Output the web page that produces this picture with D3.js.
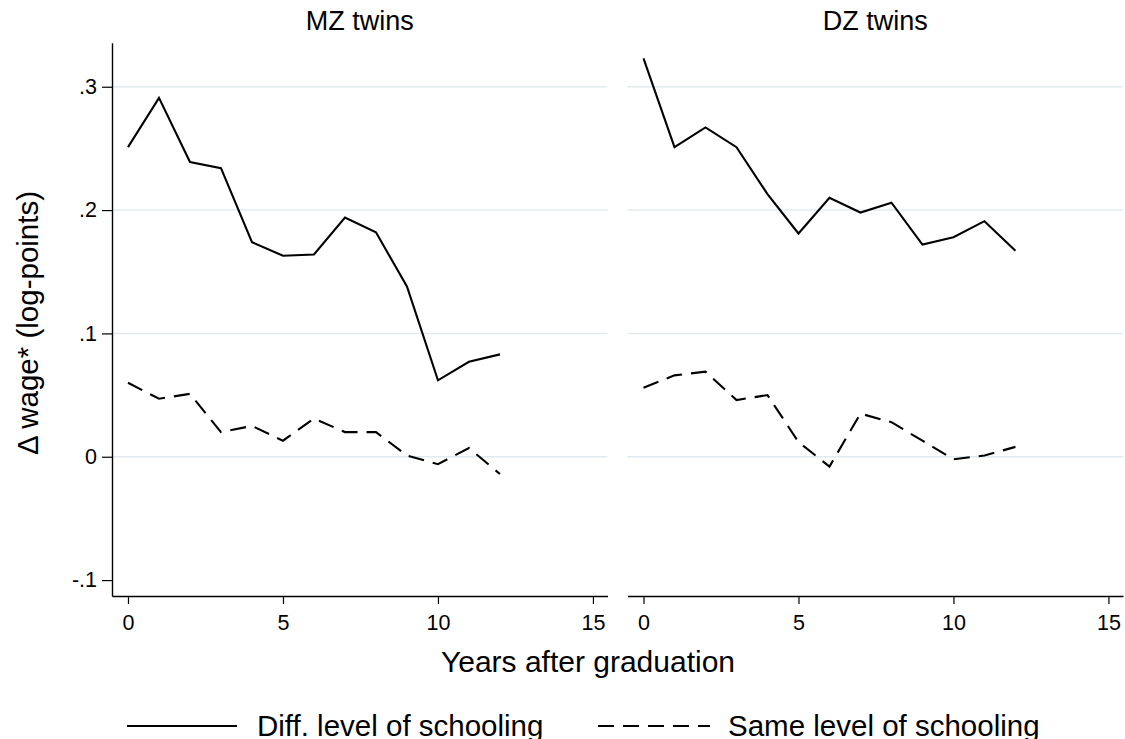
<!DOCTYPE html>
<html>
<head>
<meta charset="utf-8">
<script src="https://cdn.jsdelivr.net/npm/d3@7"></script>
<style>
  html, body { margin: 0; padding: 0; background: #fff; }
  svg { display: block; font-family: "Liberation Sans", Arial, Helvetica, sans-serif; }
</style>
</head>
<body>
<svg id="chart" width="1125" height="739"></svg>
<script>
// Years after graduation (x values shared by every series)
const years = [0, 1, 2, 3, 4, 5, 6, 7, 8, 9, 10, 11, 12];

// Wage gap, monozygotic pairs
const mzDiff = [0.251, 0.291, 0.239, 0.234, 0.174, 0.163, 0.164, 0.194, 0.182, 0.138, 0.062, 0.077, 0.083];
const mzSame = [0.060, 0.047, 0.051, 0.020, 0.025, 0.013, 0.031, 0.020, 0.020, 0.001, -0.006, 0.007, -0.014];

// Wage gap, dizygotic pairs
const dzDiff = [0.323, 0.251, 0.267, 0.251, 0.213, 0.181, 0.210, 0.198, 0.206, 0.172, 0.178, 0.191, 0.167];
const dzSame = [0.056, 0.066, 0.069, 0.046, 0.050, 0.012, -0.008, 0.035, 0.028, 0.013, -0.002, 0.001, 0.008];

const panelTitles = ["MZ twins", "DZ twins"];
const seriesLabels = ["Diff. level of schooling", "Same level of schooling"];

const yTickValues = [-0.1, 0, 0.1, 0.2, 0.3];
const yTickLabels = ["-.1", "0", ".1", ".2", ".3"];
const yGridValues = [0, 0.1, 0.2, 0.3];
const xTickValues = [0, 5, 10, 15];

const xTitle = "Years after graduation";
const yTitle = "\u0394 wage* (log-points)";

// Layout
const svg = d3.select("#chart");
const plotTop = 42.7, plotBottom = 596;
const panelWidth = 495.5;
const panelLefts = [112, 627.5];
const dashPattern = "16,9";
const tickFont = 21.5;

const y = d3.scaleLinear().domain([-0.1129, 0.3357]).range([plotBottom, plotTop]);

const panels = [
  { title: panelTitles[0], diff: mzDiff, same: mzSame },
  { title: panelTitles[1], diff: dzDiff, same: dzSame }
];

panels.forEach((p, idx) => {
  const x0 = panelLefts[idx];
  const x = d3.scaleLinear().domain([-0.516, 15.47]).range([x0, x0 + panelWidth]);
  const g = svg.append("g");

  // horizontal gridlines
  g.selectAll("line.grid").data(yGridValues).join("line")
    .attr("class", "grid")
    .attr("x1", x0).attr("x2", x0 + panelWidth)
    .attr("y1", d => y(d)).attr("y2", d => y(d))
    .attr("stroke", "#e2eaef").attr("stroke-width", 1.5);

  // bottom axis
  const xAxis = d3.axisBottom(x).tickValues(xTickValues).tickSize(8).tickSizeOuter(0);
  const xg = g.append("g").attr("transform", `translate(0,${plotBottom})`).call(xAxis);
  xg.select(".domain").attr("stroke", "#000").attr("stroke-width", 1.4);
  xg.selectAll(".tick line").attr("stroke", "#000").attr("stroke-width", 1.2);
  xg.selectAll(".tick text")
    .attr("y", 34).attr("dy", null)
    .attr("font-size", tickFont).attr("fill", "#000")
    .attr("font-family", "Liberation Sans, Arial, sans-serif");

  // left axis only on the first panel
  if (idx === 0) {
    const yAxis = d3.axisLeft(y).tickValues(yTickValues)
      .tickFormat((d, i) => yTickLabels[i]).tickSize(10).tickPadding(5).tickSizeOuter(0);
    const yg = g.append("g").attr("transform", `translate(${x0},0)`).call(yAxis);
    yg.select(".domain").attr("stroke", "#000").attr("stroke-width", 1.4);
    yg.selectAll(".tick line").attr("stroke", "#000").attr("stroke-width", 1.2);
    yg.selectAll(".tick text")
      .attr("font-size", tickFont).attr("fill", "#000")
      .attr("font-family", "Liberation Sans, Arial, sans-serif");
  }

  // panel title
  g.append("text")
    .attr("x", x0 + panelWidth / 2).attr("y", 29.5)
    .attr("text-anchor", "middle").attr("font-size", 27).attr("fill", "#000")
    .text(p.title);

  const line = d3.line().x((d, i) => x(years[i])).y(d => y(d));

  g.append("path").datum(p.diff)
    .attr("d", line).attr("fill", "none")
    .attr("stroke", "#000").attr("stroke-width", 2.1)
    .attr("stroke-linejoin", "miter");

  g.append("path").datum(p.same)
    .attr("d", line).attr("fill", "none")
    .attr("stroke", "#000").attr("stroke-width", 2.1)
    .attr("stroke-dasharray", dashPattern);
});

// axis titles
svg.append("text")
  .attr("x", 588).attr("y", 672)
  .attr("text-anchor", "middle").attr("font-size", 30).attr("fill", "#000")
  .text(xTitle);

svg.append("text")
  .attr("transform", "translate(37.5,323) rotate(-90)")
  .attr("text-anchor", "middle").attr("font-size", 29.5).attr("fill", "#000")
  .text(yTitle);

// legend
const legendItems = [
  { label: seriesLabels[0], x1: 127, x2: 237, tx: 257, dash: null },
  { label: seriesLabels[1], x1: 598, x2: 710, tx: 728, dash: dashPattern }
];
const legendY = 726;
const lg = svg.append("g");
legendItems.forEach(it => {
  lg.append("line")
    .attr("x1", it.x1).attr("x2", it.x2)
    .attr("y1", legendY).attr("y2", legendY)
    .attr("stroke", "#000").attr("stroke-width", 2.2)
    .attr("stroke-dasharray", it.dash);
  lg.append("text")
    .attr("x", it.tx).attr("y", 736)
    .attr("font-size", 29.5).attr("fill", "#000")
    .text(it.label);
});
</script>
</body>
</html>
